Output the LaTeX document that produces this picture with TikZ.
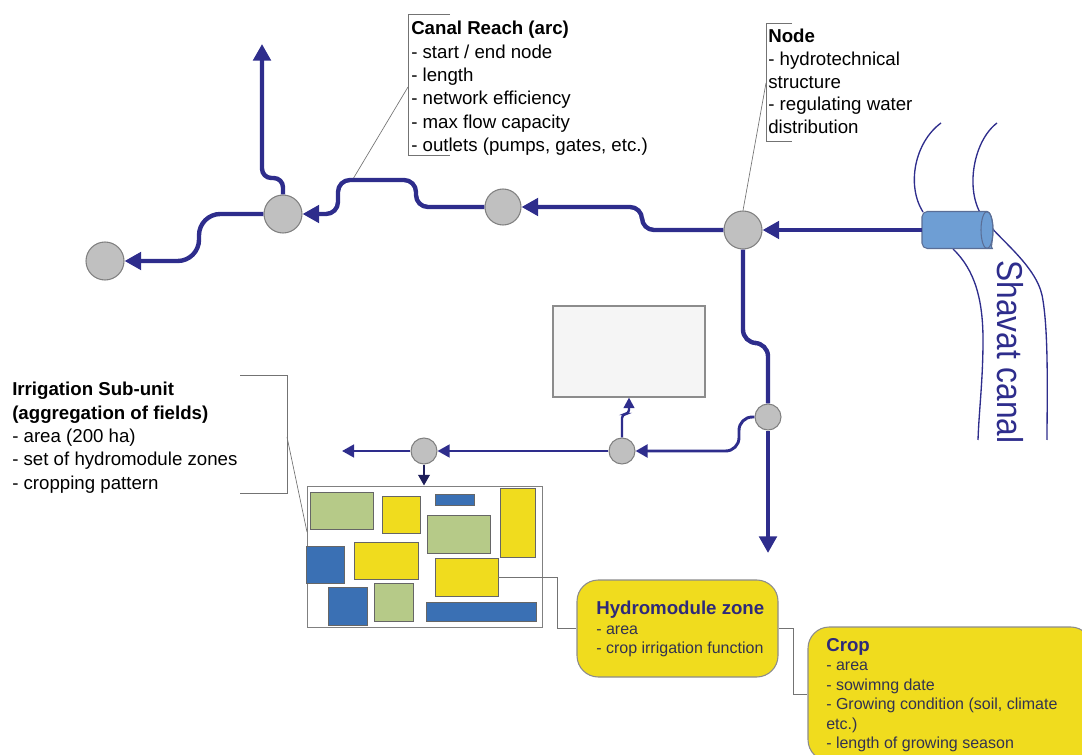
\documentclass[tikz,border=0pt]{standalone}
\usepackage{fontspec}
\setmainfont{Liberation Sans}
\usetikzlibrary{arrows.meta,fit}
\definecolor{canal}{RGB}{46,45,140}
\definecolor{navyd}{RGB}{30,30,90}
\definecolor{hubfill}{RGB}{192,192,192}
\definecolor{hubline}{RGB}{128,128,128}
\definecolor{fgreen}{RGB}{182,202,136}
\definecolor{fyellow}{RGB}{240,220,30}
\definecolor{fblue}{RGB}{58,112,180}
\definecolor{cylblue}{RGB}{110,158,212}
\definecolor{cylline}{RGB}{90,110,150}
\definecolor{titlec}{RGB}{46,42,122}
\definecolor{bodyc}{RGB}{50,50,80}
\begin{document}
\begin{tikzpicture}[x=0.75pt,y=-0.75pt,
  hub/.style={circle, fill=hubfill, draw=hubline, line width=0.8pt, inner sep=0},
  hubbig/.style={hub, minimum size=28.5pt},
  hubsmall/.style={hub, minimum size=19.5pt},
  mainline/.style={draw=canal, line width=3.3pt, rounded corners=9pt},
  mainarr/.style={mainline, -{Triangle[length=12.5pt,width=13pt]}},
  branchline/.style={draw=canal, line width=2pt, rounded corners=7pt, -{Triangle[length=9pt,width=9.5pt]}},
  fieldbox/.style={draw=black!60, line width=0.6pt, inner sep=0},
  calloutline/.style={draw=black!55, line width=0.5pt},
  txtblock/.style={anchor=north west, inner sep=0, align=left, font=\fontsize{14}{17.5}\selectfont},
  ybox/.style={fill=fyellow, draw=black!45, line width=0.8pt, rounded corners=16pt, inner sep=0},
  rivercurve/.style={draw=canal, line width=1pt},
]
\useasboundingbox (0,0) rectangle (1082,755);
\begin{scope}
\clip (0,0) rectangle (1082,755);

% Shavat canal banks
\draw[rivercurve] (941,123) .. controls (915,142) and (906,185) .. (923,212);
\draw[rivercurve] (953,249) .. controls (975,270) and (983,300) .. (983,340) .. controls (983,380) and (979,410) .. (978,440);
\draw[rivercurve] (997,123) .. controls (972,142) and (964,195) .. (985,220) .. controls (1000,240) and (1035,265) .. (1042,295) .. controls (1049,330) and (1047,400) .. (1047,440);
\node[rotate=-90, text=canal, inner sep=0] (shavat) at (1010,352) {\scalebox{0.88}[1]{\fontsize{27}{30}\selectfont Shavat canal}};

% intake cylinder
\path[fill=cylblue, draw=cylline, line width=0.8pt, rounded corners=4pt] (987,211.5) -- (922,211.5) -- (922,248.5) -- (987,248.5) [sharp corners] arc[start angle=90, end angle=-90, x radius=6, y radius=18.5] -- cycle;
\draw[cylline, line width=0.8pt] (987,230) ellipse[x radius=6, y radius=18.5];
\coordinate (feed) at (922,230);

% hubs
\node[hubbig] (N1) at (105,261) {};
\node[hubbig] (N2) at (283,214) {};
\node[hub, minimum size=27pt] (N3) at (503,207) {};
\node[hubbig] (N4) at (743,230) {};
\node[hubsmall] (N5) at (768,417) {};
\node[hubsmall] (N6) at (622,451) {};
\node[hubsmall] (N7) at (424,451) {};

% hatched block
\node[fit={(553,306) (705,397)}, fill=black!4, draw=black!45, line width=0.8pt, inner sep=0] (hatch) {};

% fields
\node[fit={(307,486) (542,627)}, draw=black!50, line width=0.7pt, inner sep=0] (fields) {};
\node[fieldbox, fill=fgreen,  fit={(310,492) (373,529)}] (f1) {};
\node[fieldbox, fill=fyellow, fit={(382,496) (420,533)}] (f2) {};
\node[fieldbox, fill=fblue,   fit={(435,494) (474,505)}] (f3) {};
\node[fieldbox, fill=fyellow, fit={(500,488) (535,557)}] (f4) {};
\node[fieldbox, fill=fgreen,  fit={(427,515) (490,553)}] (f5) {};
\node[fieldbox, fill=fblue,   fit={(306,546) (344,583)}] (f6) {};
\node[fieldbox, fill=fyellow, fit={(354,542) (418,579)}] (f7) {};
\node[fieldbox, fill=fyellow, fit={(435,558) (498,596)}] (f8) {};
\node[fieldbox, fill=fblue,   fit={(328,587) (367,625)}] (f9) {};
\node[fieldbox, fill=fgreen,  fit={(374,583) (413,621)}] (f10) {};
\node[fieldbox, fill=fblue,   fit={(426,602) (536,621)}] (f11) {};

% yellow boxes
\node[ybox, fit={(577,580) (778,677)}] (hydro) {};
\node[ybox, fit={(808,627) (1092,761)}] (crop) {};
\node[txtblock, font=\fontsize{12}{14.6}\selectfont, text=bodyc] (hydrotxt) at (596,601)
  {{\fontsize{14}{14.6}\selectfont\bfseries\color{titlec}Hydromodule zone}\\- area\\- crop irrigation function};
\node[txtblock, font=\fontsize{12}{14.6}\selectfont, text=bodyc] (croptxt) at (826,638)
  {{\fontsize{14}{14.6}\selectfont\bfseries\color{titlec}Crop}\\- area\\- sowimng date\\- Growing condition (soil, climate\\etc.)\\- length of growing season};
\draw[calloutline] (f8.east) -- ++(59,0) |- (hydro.west);
\draw[calloutline] (hydro.east) -- ++(15,0) |- (crop.west);

% text labels with brackets
\node[txtblock] (reach) at (411,21)
  {\textbf{Canal Reach (arc)}\\- start / end node\\- length\\- network efficiency\\- max flow capacity\\- outlets (pumps, gates, etc.)};
\draw[calloutline] (450,14) -- (408,14) -- (408,155) -- (450,155);
\coordinate (reachpt) at (353,179);
\draw[calloutline] (408,87) -- (reachpt);

\node[txtblock, font=\fontsize{14}{17}\selectfont] (nodetxt) at (768,29)
  {\textbf{Node}\\- hydrotechnical\\structure\\- regulating water\\distribution};
\draw[calloutline] (792,23) -- (766,23) -- (766,141) -- (792,141);
\draw[calloutline] (766,83) -- (N4.north);

\node[txtblock] (irr) at (12,382)
  {\textbf{Irrigation Sub-unit}\\\textbf{(aggregation of fields)}\\- area (200 ha)\\- set of hydromodule zones\\- cropping pattern};
\draw[calloutline] (240,375) -- (287,375) -- (287,493) -- (240,493);
\coordinate (fieldspt) at (307,532);
\draw[calloutline] (287,437) -- (fieldspt);

% canal network
\draw[mainarr] (feed) -- (N4.east);
\draw[mainarr] (N4.west) -- (642,230) -- (642,207) -- (N3.east);
\draw[mainarr] (N3.west) -- (416,207) -- (416,180) -- (338,180) -- (338,214) -- (N2.east);
\draw[mainarr, rounded corners=7pt] (N2.north) -- (283,178) -- (262,178) -- (262,44);
\draw[mainarr, rounded corners=16pt] (N2.west) -- (199,214) -- (199,261) -- (N1.east);
\draw[mainline, rounded corners=10pt] (N4.south) -- (743,343) -- (768,343) -- (N5.north);
\coordinate (southend) at (768,553);
\draw[mainarr] (N5.south) -- (southend);
\draw[branchline, line width=2.2pt, rounded corners=10pt] (N5.west) -- (739,417) -- (739,451) -- (N6.east);
\draw[branchline, line width=1.8pt, rounded corners=3pt, -{Triangle[length=8pt,width=8pt]}] (N6.north) -- (622,414) -- (629,414) -- (hatch.south);
\draw[branchline, line width=1.8pt] (N6.west) -- (N7.east);
\coordinate (westend) at (342,451);
\draw[branchline, line width=1.8pt] (N7.west) -- (westend);
\draw[branchline, draw=navyd, line width=1.8pt, -{Triangle[length=8pt,width=8.5pt]}] (N7.south) -- (N7.south |- fields.north);
\end{scope}
\end{tikzpicture}
\end{document}
